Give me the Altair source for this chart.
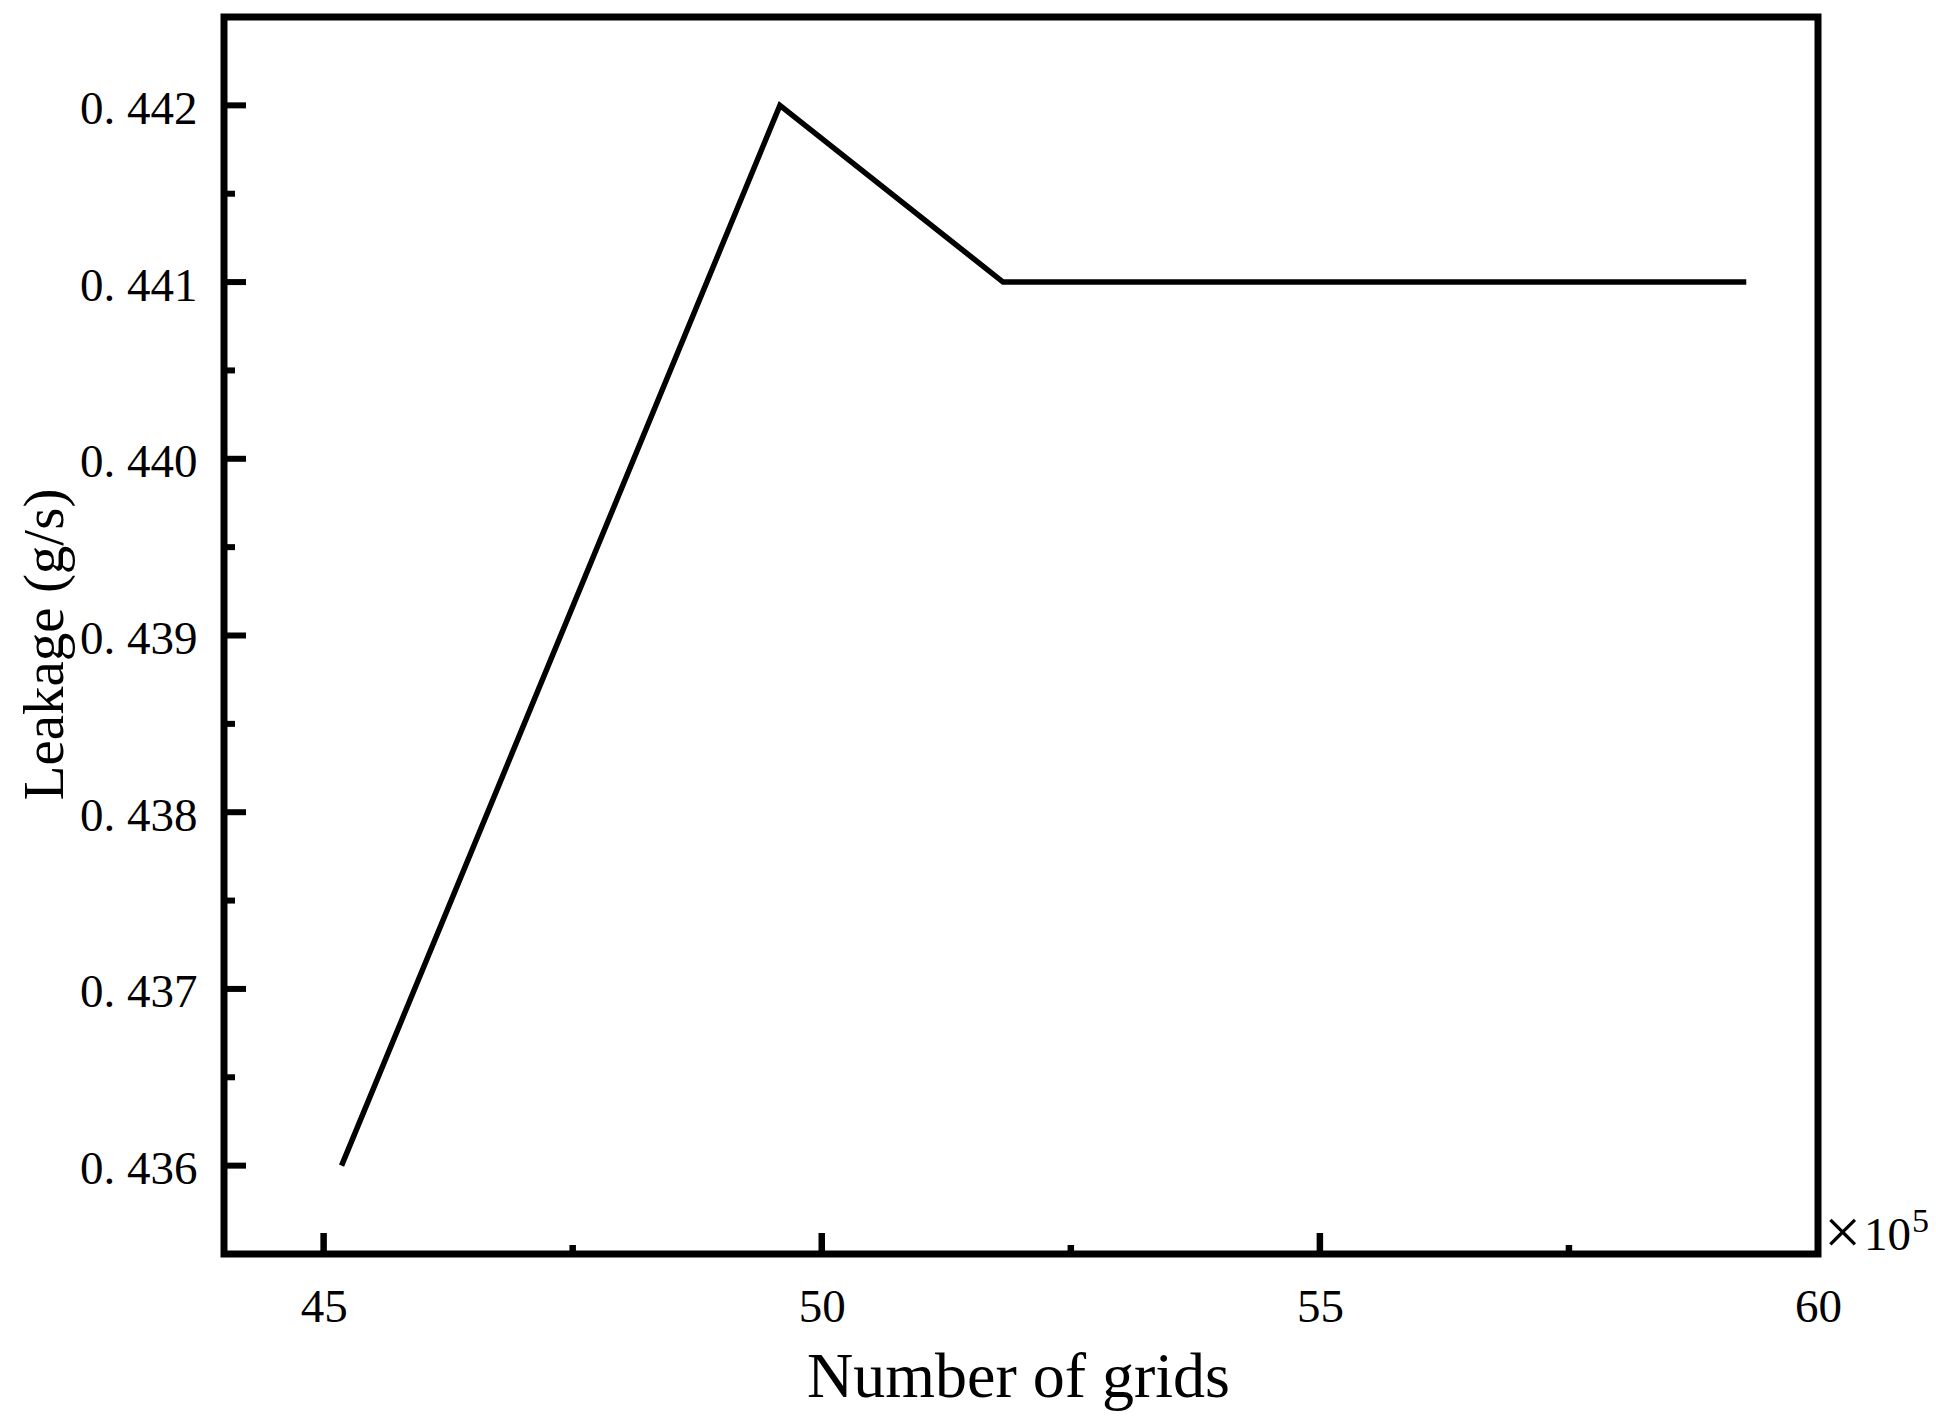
import altair as alt
import pandas as pd

# Data
grids = [45.18, 49.58, 51.82, 59.28]          # Number of grids (x 10^5)
leakage = [0.436, 0.442, 0.441, 0.441]        # Leakage (g/s)

x_label_values = [45, 50, 55, 60]
x_major_ticks = [45, 50, 55]
x_minor_ticks = [47.5, 52.5, 57.5]
y_major_ticks = [0.436, 0.437, 0.438, 0.439, 0.440, 0.441, 0.442]
y_minor_ticks = [0.4365, 0.4375, 0.4385, 0.4395, 0.4405, 0.4415]

FONT = "Liberation Serif"
W, H = 1594, 1237

line_df = pd.DataFrame({"grids": grids, "leakage": leakage})
xmaj_df = pd.DataFrame({"grids": x_major_ticks})
xmin_df = pd.DataFrame({"grids": x_minor_ticks})
ymaj_df = pd.DataFrame({"leakage": y_major_ticks})
ymin_df = pd.DataFrame({"leakage": y_minor_ticks})

xscale = alt.Scale(domain=[44, 60], nice=False, zero=False)
yscale = alt.Scale(domain=[0.4355, 0.4425], nice=False, zero=False)

xaxis = alt.Axis(
    values=x_label_values, format="d", grid=False, ticks=False, tickSize=0,
    domain=False, labelFont=FONT, labelFontSize=47, labelColor="black",
    labelBaseline="alphabetic", labelPadding=67, labelFlush=False,
    title="Number of grids", titleFont=FONT, titleFontSize=64,
    titleFontWeight="normal", titleColor="black",
    titleX=794, titleY=142, titleBaseline="alphabetic", titleAlign="center",
)
yaxis = alt.Axis(
    values=y_major_ticks, grid=False, ticks=False, tickSize=0, domain=False,
    labelExpr="replace(format(datum.value, '.3f'), '.', '. ')",
    labelFont=FONT, labelFontSize=47, labelColor="black",
    labelBaseline="alphabetic", labelOffset=18, labelPadding=27,
    labelFlush=False,
    title="Leakage (g/s)", titleFont=FONT, titleFontSize=57,
    titleFontWeight="normal", titleColor="black",
    titleX=-162, titleY=627, titleAngle=-90, titleBaseline="alphabetic",
    titleAlign="center",
)

X = alt.X("grids:Q", scale=xscale, axis=xaxis)
Y = alt.Y("leakage:Q", scale=yscale, axis=yaxis)

line = alt.Chart(line_df).mark_line(
    color="black", strokeWidth=5.5, strokeJoin="miter", strokeCap="butt"
).encode(x=X, y=Y)

xmaj = alt.Chart(xmaj_df).mark_rule(color="black", strokeWidth=6.5).encode(
    x=X, y=alt.value(H), y2=alt.value(H - 21)
)
xmin = alt.Chart(xmin_df).mark_rule(color="black", strokeWidth=6.5).encode(
    x=X, y=alt.value(H), y2=alt.value(H - 9)
)
ymaj = alt.Chart(ymaj_df).mark_rule(color="black", strokeWidth=6).encode(
    y=Y, x=alt.value(0), x2=alt.value(22)
)
ymin = alt.Chart(ymin_df).mark_rule(color="black", strokeWidth=6).encode(
    y=Y, x=alt.value(0), x2=alt.value(11)
)

times = alt.Chart(pd.DataFrame({"t": ["×"]})).mark_text(
    font=FONT, fontSize=66, color="black", align="left",
    baseline="alphabetic", dx=6, dy=0
).encode(x=alt.datum(60), y=alt.datum(0.4355), text="t:N")

ten = alt.Chart(pd.DataFrame({"t": ["10"]})).mark_text(
    font=FONT, fontSize=47, color="black", align="left",
    baseline="alphabetic", dx=46, dy=-4
).encode(x=alt.datum(60), y=alt.datum(0.4355), text="t:N")

expo = alt.Chart(pd.DataFrame({"t": ["5"]})).mark_text(
    font=FONT, fontSize=34, color="black", align="left",
    baseline="alphabetic", dx=94, dy=-22
).encode(x=alt.datum(60), y=alt.datum(0.4355), text="t:N")

chart = alt.layer(line, xmaj, xmin, ymaj, ymin, times, ten, expo).properties(
    width=W, height=H,
    autosize=alt.AutoSizeParams(type="none"),
    padding={"left": 216, "top": 9, "right": 110, "bottom": 157},
    background="white",
).configure_view(
    stroke="black", strokeWidth=7, fill="white"
)

chart.save("out.html", embed_options={"renderer": "svg", "actions": False})
